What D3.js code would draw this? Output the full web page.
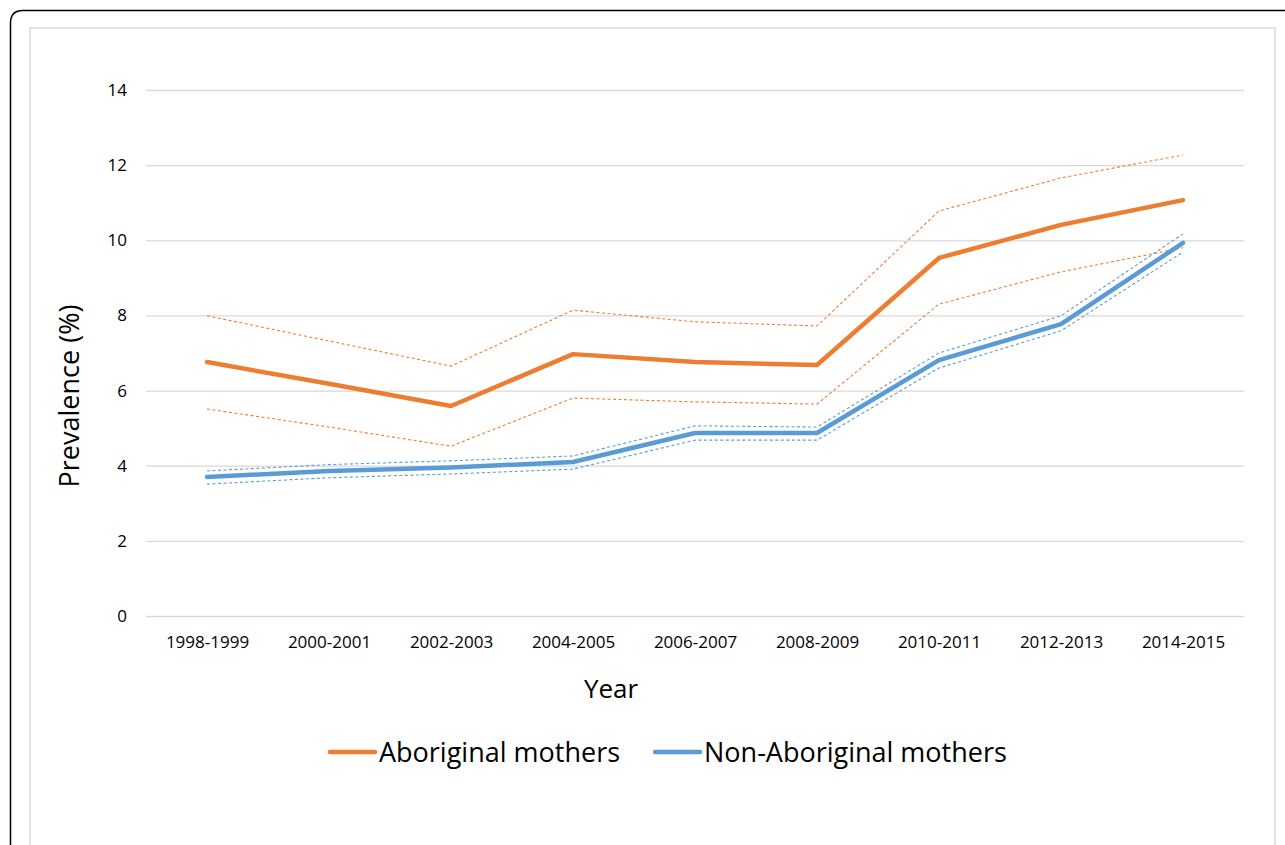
<!DOCTYPE html>
<html>
<head>
<meta charset="utf-8">
<script src="https://cdn.jsdelivr.net/npm/d3@7"></script>
<style>
  body { margin: 0; background: #fff; }
  svg { display: block; }
  svg text { font-family: "Open Sans", "Noto Sans", sans-serif; }
</style>
</head>
<body>
<svg id="chart" width="1285" height="845"></svg>
<script>
const years = ['1998-1999', '2000-2001', '2002-2003', '2004-2005', '2006-2007',
    '2008-2009', '2010-2011', '2012-2013', '2014-2015'];
const yTicks = [0, 2, 4, 6, 8, 10, 12, 14];

const aboriginal = [6.76, 6.18, 5.59, 6.97, 6.76, 6.68, 9.53, 10.41, 11.07];
const aboriginalUpper = [7.99, 7.32, 6.65, 8.14, 7.83, 7.72, 10.78, 11.66, 12.27];
const aboriginalLower = [5.51, 5.03, 4.52, 5.80, 5.70, 5.64, 8.30, 9.16, 9.80];

const nonAboriginal = [3.70, 3.86, 3.95, 4.10, 4.87, 4.87, 6.81, 7.77, 9.93];
const nonAboriginalUpper = [3.86, 4.03, 4.13, 4.26, 5.06, 5.03, 7.00, 7.99, 10.17];
const nonAboriginalLower = [3.51, 3.68, 3.78, 3.91, 4.68, 4.68, 6.60, 7.59, 9.69];

const COLORS = { orange: '#ED7D31', blue: '#5B9BD5', grid: '#D9D9D9', text: '#000' };
const FONT = '"Open Sans", "Noto Sans", sans-serif';

const svg = d3.select('#chart');

// outer frame and inner chart box
svg.append('path')
    .attr('d', 'M10.5,1000 L10.5,23 Q10.5,10.5 23,10.5 L1400,10.5')
    .attr('fill', 'none')
    .attr('stroke', '#000')
    .attr('stroke-width', 1.5);
svg.append('rect')
    .attr('x', 30).attr('y', 28)
    .attr('width', 1245).attr('height', 900)
    .attr('fill', '#fff')
    .attr('stroke', '#D9D9D9')
    .attr('stroke-width', 1.5);

const plot = { left: 146, right: 1244, top: 90, bottom: 616 };

const x = d3.scalePoint()
    .domain(years)
    .range([plot.left, plot.right])
    .padding(0.5);
const y = d3.scaleLinear()
    .domain([0, 14])
    .range([plot.bottom, plot.top]);

// y axis with grid
const yAxis = svg.append('g')
    .attr('class', 'y-axis')
    .attr('transform', `translate(${plot.left},0)`)
    .call(d3.axisLeft(y).tickValues(yTicks).tickSize(-(plot.right - plot.left)).tickPadding(19));
yAxis.attr('font-family', FONT).attr('font-size', 17);
yAxis.select('.domain').remove();
yAxis.selectAll('.tick line').attr('stroke', COLORS.grid).attr('stroke-width', 1.3);
yAxis.selectAll('.tick text').attr('fill', COLORS.text);

// x axis
const xAxis = svg.append('g')
    .attr('class', 'x-axis')
    .attr('transform', `translate(0,${plot.bottom})`)
    .call(d3.axisBottom(x).tickSize(0).tickPadding(20));
xAxis.attr('font-family', FONT).attr('font-size', 17);
xAxis.select('.domain').remove();
xAxis.selectAll('.tick text').attr('fill', COLORS.text);

// axis titles
svg.append('text')
    .attr('x', 611).attr('y', 698)
    .attr('text-anchor', 'middle')
    .attr('font-size', 26)
    .attr('fill', COLORS.text)
    .text('Year');
svg.append('text')
    .attr('transform', 'translate(79,396) rotate(-90)')
    .attr('text-anchor', 'middle')
    .attr('font-size', 27)
    .attr('fill', COLORS.text)
    .text('Prevalence (%)');

const line = d3.line()
    .x((d, i) => x(years[i]))
    .y(d => y(d));

const series = [
    { values: aboriginalUpper, color: COLORS.orange, dashed: true },
    { values: aboriginalLower, color: COLORS.orange, dashed: true },
    { values: nonAboriginalUpper, color: COLORS.blue, dashed: true },
    { values: nonAboriginalLower, color: COLORS.blue, dashed: true },
    { values: aboriginal, color: COLORS.orange, dashed: false },
    { values: nonAboriginal, color: COLORS.blue, dashed: false }
];

const lines = svg.append('g').attr('id', 'lines');
series.forEach(s => {
    lines.append('path')
        .datum(s.values)
        .attr('d', line)
        .attr('fill', 'none')
        .attr('stroke', s.color)
        .attr('stroke-width', s.dashed ? 1.1 : 4.5)
        .attr('stroke-dasharray', s.dashed ? '3,2.5' : null)
        .attr('stroke-linecap', s.dashed ? 'butt' : 'round')
        .attr('stroke-linejoin', 'round');
});

// legend
const legendItems = [
    { label: 'Aboriginal mothers', color: COLORS.orange, x: 330 },
    { label: 'Non-Aboriginal mothers', color: COLORS.blue, x: 655 }
];
const legend = svg.append('g').attr('class', 'legend');
legendItems.forEach(item => {
    legend.append('line')
        .attr('x1', item.x).attr('x2', item.x + 45)
        .attr('y1', 752).attr('y2', 752)
        .attr('stroke', item.color)
        .attr('stroke-width', 4.5)
        .attr('stroke-linecap', 'round');
    legend.append('text')
        .attr('x', item.x + 49).attr('y', 762)
        .attr('font-size', 27)
        .attr('fill', COLORS.text)
        .text(item.label);
});
</script>
</body>
</html>
